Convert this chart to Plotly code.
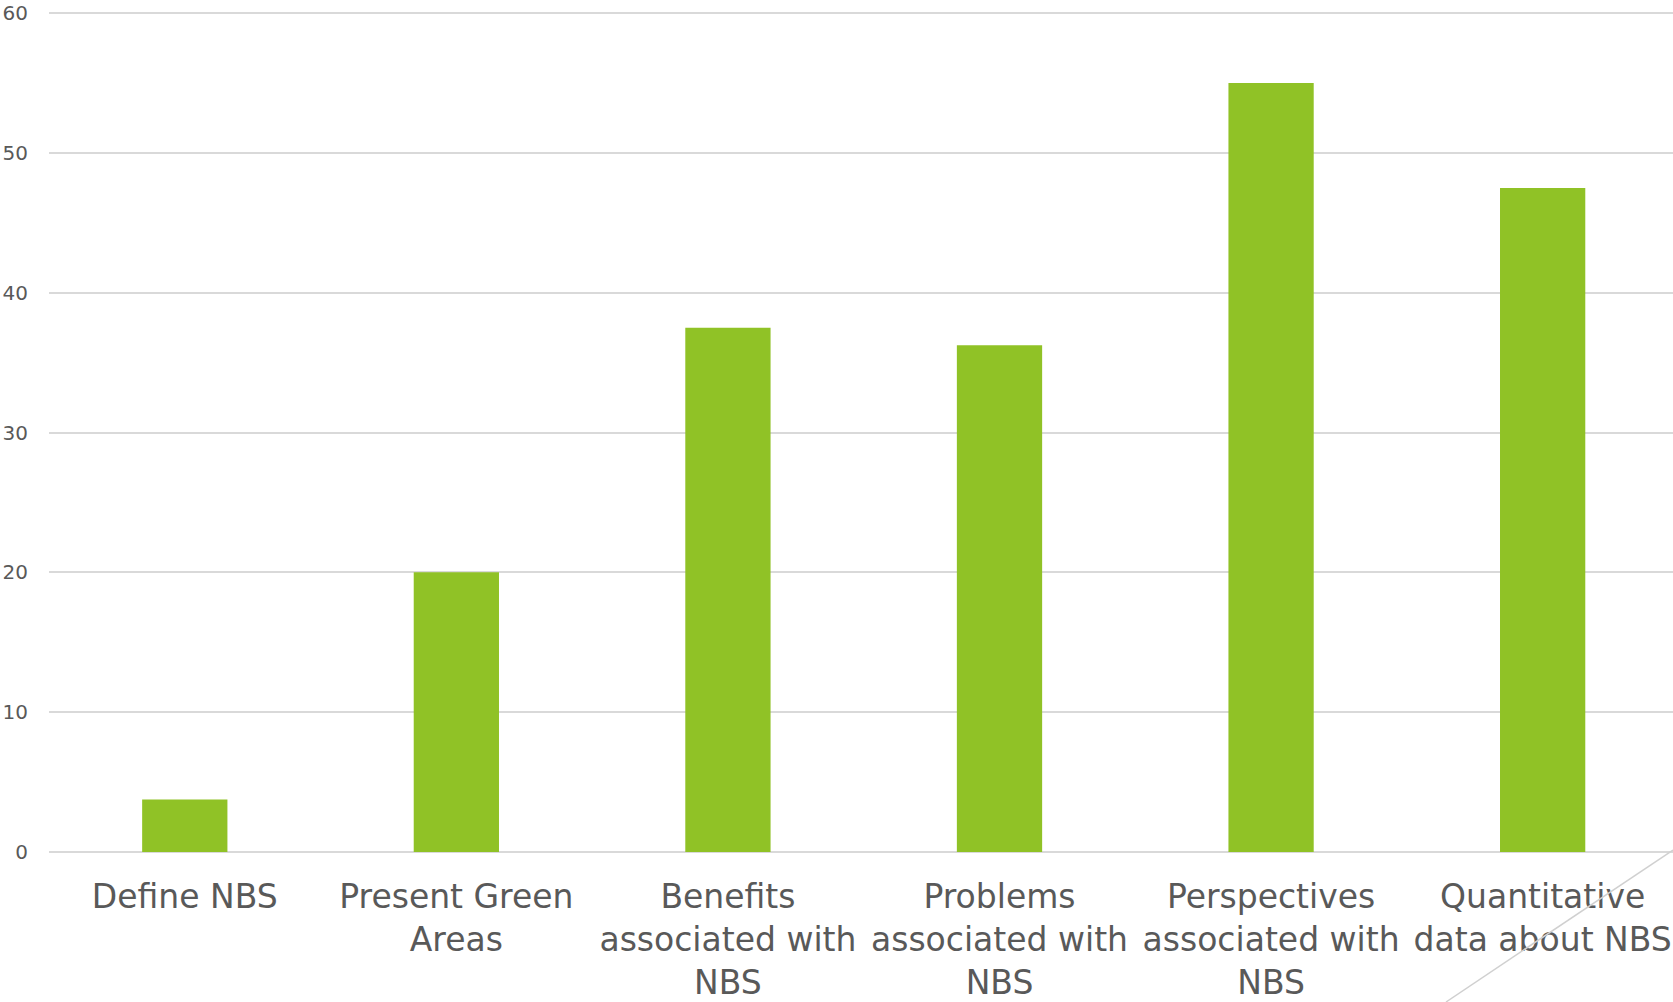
import plotly.graph_objects as go

categories = [
    "Define NBS",
    "Present Green<br>Areas",
    "Benefits<br>associated with<br>NBS",
    "Problems<br>associated with<br>NBS",
    "Perspectives<br>associated with<br>NBS",
    "Quantitative<br>data about NBS",
]
values = [3.75, 20, 37.5, 36.25, 55, 47.5]
y_ticks = [0, 10, 20, 30, 40, 50, 60]

W, H = 1673, 1002
ML, MR, MT, MB = 49, 0, 12, 150
PW, PH = W - ML - MR, H - MT - MB

fig = go.Figure()
fig.add_trace(go.Bar(
    x=list(range(len(categories))), y=values,
    marker=dict(color="#90C226", line=dict(width=0)),
    width=0.314,
))

fig.update_layout(
    width=W, height=H,
    margin=dict(l=ML, r=MR, t=MT, b=MB, autoexpand=False),
    paper_bgcolor="white", plot_bgcolor="white",
    showlegend=False,
    font=dict(family="DejaVu Sans", color="#595959"),
    xaxis=dict(
        range=[-0.5, 5.48],
        tickvals=list(range(len(categories))), ticktext=categories,
        tickfont=dict(size=33, color="#595959"),
        showgrid=False, zeroline=False, showline=False, ticks="",
        ticklabelstandoff=22, automargin=False,
    ),
    yaxis=dict(
        range=[0, 60.08], tickvals=y_ticks,
        tickfont=dict(size=20, color="#595959"),
        showgrid=True, gridcolor="#D9D9D9", gridwidth=1.5,
        zeroline=True, zerolinecolor="#D9D9D9", zerolinewidth=2,
        showline=False, ticks="", ticklabelstandoff=20,
        ticklabeloverflow="allow", automargin=False,
    ),
    shapes=[dict(
        type="line", xref="paper", yref="paper",
        x0=(1673 - ML) / PW, y0=(H - MB - 850) / PH,
        x1=(1446 - ML) / PW, y1=(H - MB - 1002) / PH,
        line=dict(color="#D0D0D0", width=1.5), layer="above",
    )],
)

fig.write_html("out.html")
